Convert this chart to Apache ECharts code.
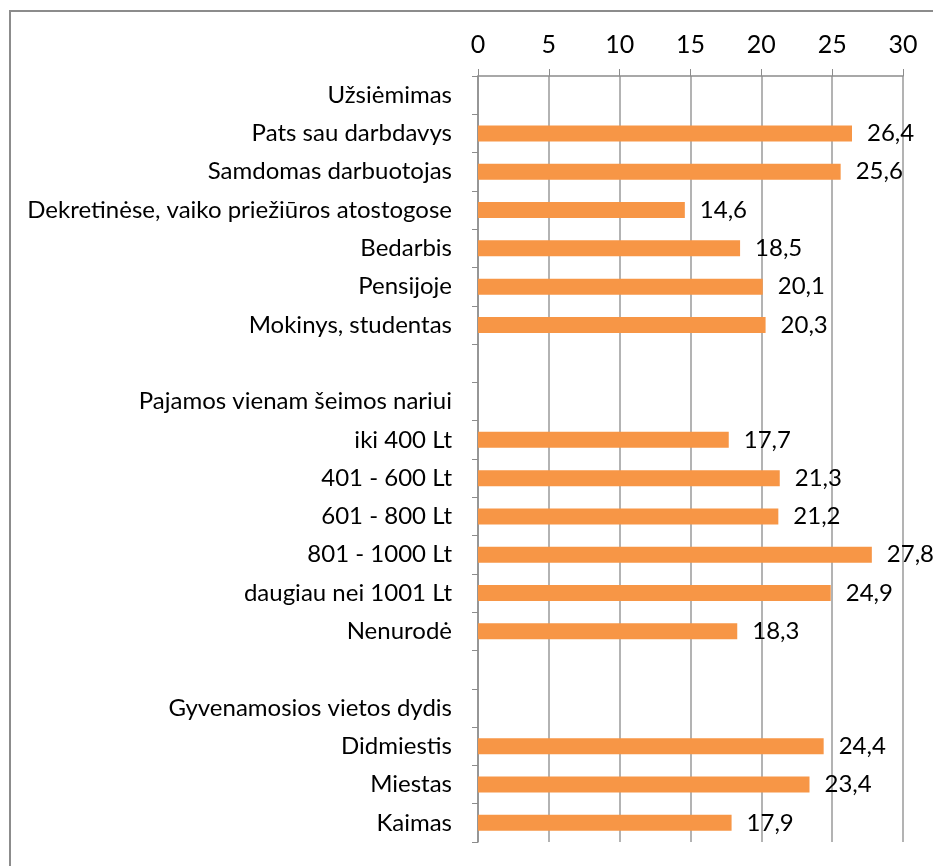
<!DOCTYPE html>
<html>
<head>
<meta charset="utf-8">
<script src="https://cdn.jsdelivr.net/npm/echarts@6/dist/echarts.min.js"></script>
<style>
    html, body { margin: 0; padding: 0; background: #fff; }
    #chart { width: 933px; height: 866px; }
</style>
</head>
<body>
<div id="chart"></div>
<script>
    // rows from top to bottom; group headers and spacer rows have no value
    var categories = [
        'Užsiėmimas',
        'Pats sau darbdavys',
        'Samdomas darbuotojas',
        'Dekretinėse, vaiko priežiūros atostogose',
        'Bedarbis',
        'Pensijoje',
        'Mokinys, studentas',
        ' ',
        'Pajamos vienam šeimos nariui',
        'iki 400 Lt',
        '401 - 600 Lt',
        '601 - 800 Lt',
        '801 - 1000 Lt',
        'daugiau nei 1001 Lt',
        'Nenurodė',
        '  ',
        'Gyvenamosios vietos dydis',
        'Didmiestis',
        'Miestas',
        'Kaimas'
    ];
    var values = [
        null, 26.4, 25.6, 14.6, 18.5, 20.1, 20.3,
        null,
        null, 17.7, 21.3, 21.2, 27.8, 24.9, 18.3,
        null,
        null, 24.4, 23.4, 17.9
    ];
    var xTicks = [0, 5, 10, 15, 20, 25, 30];

    var font = 'Lato, sans-serif';
    var chart = echarts.init(document.getElementById('chart'));

    chart.setOption({
        backgroundColor: '#fff',
        animation: false,
        textStyle: {fontFamily: font},
        graphic: [{
            type: 'rect',
            shape: {x: 10, y: 11, width: 1000, height: 1000},
            style: {fill: 'none', stroke: '#8c8c8c', lineWidth: 2},
            silent: true
        }],
        grid: {left: 478, right: 30, top: 76, bottom: 24, containLabel: false, outerBoundsMode: 'none'},
        xAxis: {
            type: 'value',
            position: 'top',
            min: xTicks[0],
            max: xTicks[xTicks.length - 1],
            interval: 5,
            axisLine: {show: true, lineStyle: {color: '#8c8c8c', width: 1.5}},
            axisTick: {show: true, length: 7, lineStyle: {color: '#8c8c8c'}},
            axisLabel: {color: '#000', fontSize: 25, margin: 19},
            splitLine: {show: true, lineStyle: {color: '#9a9a9a', width: 1.5}}
        },
        yAxis: {
            type: 'category',
            inverse: true,
            data: categories,
            axisLine: {show: true, lineStyle: {color: '#8c8c8c', width: 1.5}},
            axisTick: {show: true, length: 6, lineStyle: {color: '#8c8c8c'}},
            axisLabel: {color: '#000', fontSize: 24, margin: 26}
        },
        series: [{
            type: 'bar',
            data: values,
            barWidth: 16,
            itemStyle: {color: '#F79646'},
            label: {
                show: true,
                position: 'right',
                distance: 15,
                color: '#000',
                fontSize: 24,
                formatter: function (p) {
                    return p.value == null ? '' : String(p.value.toFixed(1)).replace('.', ',');
                }
            }
        }]
    });
</script>
</body>
</html>
